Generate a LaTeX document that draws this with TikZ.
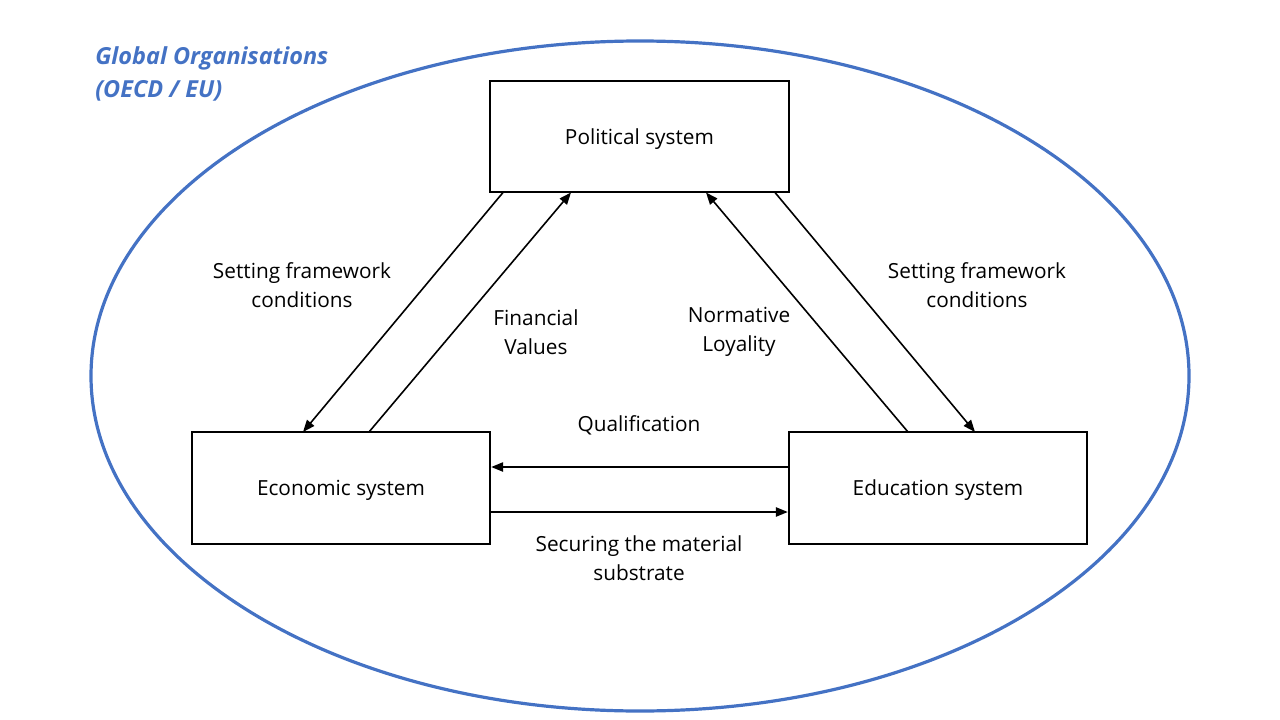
\documentclass[tikz,border=0pt]{standalone}
\usepackage{fontspec}
\setmainfont{Open Sans}
\usetikzlibrary{arrows.meta}
\definecolor{obl}{RGB}{68,114,196}
\tikzset{
  sys/.style={draw=black, line width=1.3pt, minimum width=224pt, minimum height=83.5pt, inner sep=0pt, text height=11.4pt, text depth=0pt, font=\fontsize{15.6}{21.75}\selectfont},
  con/.style={line width=1.2pt, -{Triangle[length=9pt,width=7pt]}},
  lbl/.style={align=center, font=\fontsize{15.6}{21.75}\selectfont, inner sep=0pt},
}
\begin{document}
\begin{tikzpicture}[x=0.75pt,y=-0.75pt]
\useasboundingbox (0,0) rectangle (1280,720);
\draw[obl, line width=2.4pt] (640,376) ellipse [x radius=549, y radius=335];
\node[anchor=north west, text=obl, font=\fontsize{17.6}{24.75}\selectfont\bfseries\itshape, align=left, inner sep=0pt] (glob) at (95,46) {Global Organisations\\(OECD / EU)};
\node[sys] (pol) at (639.5,136.5) {Political system};
\node[sys] (eco) at (341,488) {Economic system};
\node[sys] (edu) at (938,488) {Education system};
\coordinate (p1) at (503,192.5);
\coordinate (p2) at (571,192.5);
\coordinate (p3) at (706,192.5);
\coordinate (p4) at (775,192.5);
\coordinate (e1) at (303,432);
\coordinate (e2) at (369,432);
\coordinate (d1) at (908,432);
\coordinate (d2) at (975,432);
\draw[con] (p1) -- (e1);
\draw[con] (e2) -- (p2);
\draw[con] (d1) -- (p3);
\draw[con] (p4) -- (d2);
\draw[con] (edu.west |- 0,467) -- (eco.east |- 0,467);
\draw[con] (eco.east |- 0,512) -- (edu.west |- 0,512);
\node[lbl] (l1) at (302,285) {Setting framework\\conditions};
\node[lbl] (l2) at (536,332) {Financial\\Values};
\node[lbl] (l3) at (739,332) {Normative\\Loyality};
\node[lbl] (l4) at (977,285) {Setting framework\\conditions};
\node[lbl] (l5) at (639,425) {Qualification};
\node[lbl] (l6) at (639,558) {Securing the material\\substrate};
\end{tikzpicture}
\end{document}
